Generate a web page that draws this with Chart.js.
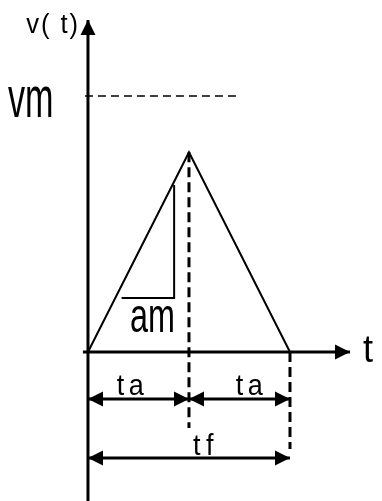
<!DOCTYPE html>
<html>
<head>
<meta charset="utf-8">
<script src="https://cdn.jsdelivr.net/npm/chart.js@4/dist/chart.umd.min.js"></script>
<style>
  html, body { margin: 0; padding: 0; background: #fff; overflow: hidden; }
  canvas { display: block; }
</style>
</head>
<body>
<canvas id="profile" width="382" height="501"></canvas>
<script>
// triangular velocity profile: t = 0, ta, tf
var times = [0, 1, 2];
var velocity = [0, 0.78, 0];
var vmLevel = 1.0;

// slope marker (am) as time / velocity pairs
var slopeTimes = [0.853, 0.853, 0.333];
var slopeVel = [0.652, 0.211, 0.211];

// extents of the drawn axes and guide lines (data units)
var tAxis = [-0.05, 2.594];
var vAxis = [-0.6, 1.297];
var vmGuide = [-0.03, 1.51];
var taDrop = -0.297;
var tfDrop = -0.379;
var taDim = -0.184;
var tfDim = -0.414;

function pts(xs, ys) {
  return xs.map(function (x, i) { return { x: x, y: ys[i] }; });
}

var ink = '#000';

var labels = [
  { text: 'v( t)', x: -0.079, y: 1.246, size: 27, sx: 0.95, align: 'right', spacing: 2 },
  { text: 'vm', x: -0.792, y: 0.918, size: 57, sx: 0.6, align: 'left', spacing: 0 },
  { text: 'am', x: 0.416, y: 0.078, size: 49, sx: 0.66, align: 'left', spacing: 0 },
  { text: 't', x: 2.723, y: -0.039, size: 38, sx: 0.95, align: 'left', spacing: 0 },
  { text: 'ta', x: (times[0] + times[1]) / 2 - 0.06, y: -0.168, size: 30, sx: 0.9, align: 'center', spacing: 5 },
  { text: 'ta', x: (times[1] + times[2]) / 2 + 0.12, y: -0.168, size: 30, sx: 0.9, align: 'center', spacing: 5 },
  { text: 'tf', x: 1.168, y: -0.402, size: 30, sx: 0.9, align: 'center', spacing: 6 }
];

function head(ctx, from, tip, len, half) {
  var a = Math.atan2(tip.y - from.y, tip.x - from.x);
  var c = Math.cos(a), s = Math.sin(a);
  ctx.beginPath();
  ctx.moveTo(tip.x, tip.y);
  ctx.lineTo(tip.x - len * c + half * s, tip.y - len * s - half * c);
  ctx.lineTo(tip.x - len * c - half * s, tip.y - len * s + half * c);
  ctx.closePath();
  ctx.fill();
}

var arrowPlugin = {
  id: 'arrows',
  afterDatasetsDraw: function (chart) {
    var ctx = chart.ctx;
    chart.data.datasets.forEach(function (ds, i) {
      if (!ds.arrows) return;
      var p = chart.getDatasetMeta(i).data;
      var n = p.length;
      ctx.save();
      ctx.fillStyle = ds.borderColor;
      if (ds.arrows.indexOf('end') >= 0) head(ctx, p[n - 2], p[n - 1], 15, 7.5);
      if (ds.arrows.indexOf('start') >= 0) head(ctx, p[1], p[0], 15, 7.5);
      ctx.restore();
    });
  }
};

var labelPlugin = {
  id: 'labels',
  afterDraw: function (chart) {
    var ctx = chart.ctx;
    var xs = chart.scales.x, ys = chart.scales.y;
    labels.forEach(function (l) {
      ctx.save();
      ctx.translate(xs.getPixelForValue(l.x), ys.getPixelForValue(l.y));
      ctx.scale(l.sx, 1);
      ctx.font = l.size + 'px "Liberation Sans", Arial, sans-serif';
      ctx.letterSpacing = l.spacing + 'px';
      ctx.fillStyle = ink;
      ctx.textAlign = l.align;
      ctx.textBaseline = 'alphabetic';
      ctx.fillText(l.text, 0, 0);
      ctx.restore();
    });
  }
};

function line(data, opts) {
  var ds = {
    data: data,
    showLine: true,
    borderColor: ink,
    borderWidth: 2,
    pointRadius: 0,
    fill: false,
    tension: 0
  };
  for (var k in opts) ds[k] = opts[k];
  return ds;
}

var ctx = document.getElementById('profile').getContext('2d');
var chart = new Chart(ctx, {
  type: 'scatter',
  data: {
    datasets: [
      line(pts(tAxis, [0, 0]), { borderWidth: 3, arrows: ['end'] }),
      line(pts([0, 0], vAxis), { borderWidth: 3, arrows: ['end'] }),
      line(pts(times, velocity), { borderJoinStyle: 'miter' }),
      line(pts(vmGuide, [vmLevel, vmLevel]), { borderWidth: 1.5, borderDash: [8, 5] }),
      line(pts([times[1], times[1]], [velocity[1], taDrop]), { borderWidth: 3, borderDash: [10, 5] }),
      line(pts([times[2], times[2]], [0, tfDrop]), { borderWidth: 3, borderDash: [10, 5] }),
      line(pts(slopeTimes, slopeVel), { borderJoinStyle: 'miter' }),
      line(pts([times[0], times[1]], [taDim, taDim]), { borderWidth: 3, arrows: ['start', 'end'] }),
      line(pts([times[1], times[2]], [taDim, taDim]), { borderWidth: 3, arrows: ['start', 'end'] }),
      line(pts([times[0], times[2]], [tfDim, tfDim]), { borderWidth: 3, arrows: ['start', 'end'] })
    ]
  },
  options: {
    responsive: false,
    animation: false,
    layout: { padding: 0 },
    plugins: {
      legend: { display: false },
      tooltip: { enabled: false }
    },
    scales: {
      x: { type: 'linear', display: false, min: -0.871, max: 2.911 },
      y: { type: 'linear', display: false, min: -0.582, max: 1.375 }
    }
  },
  plugins: [arrowPlugin, labelPlugin]
});
</script>
</body>
</html>
